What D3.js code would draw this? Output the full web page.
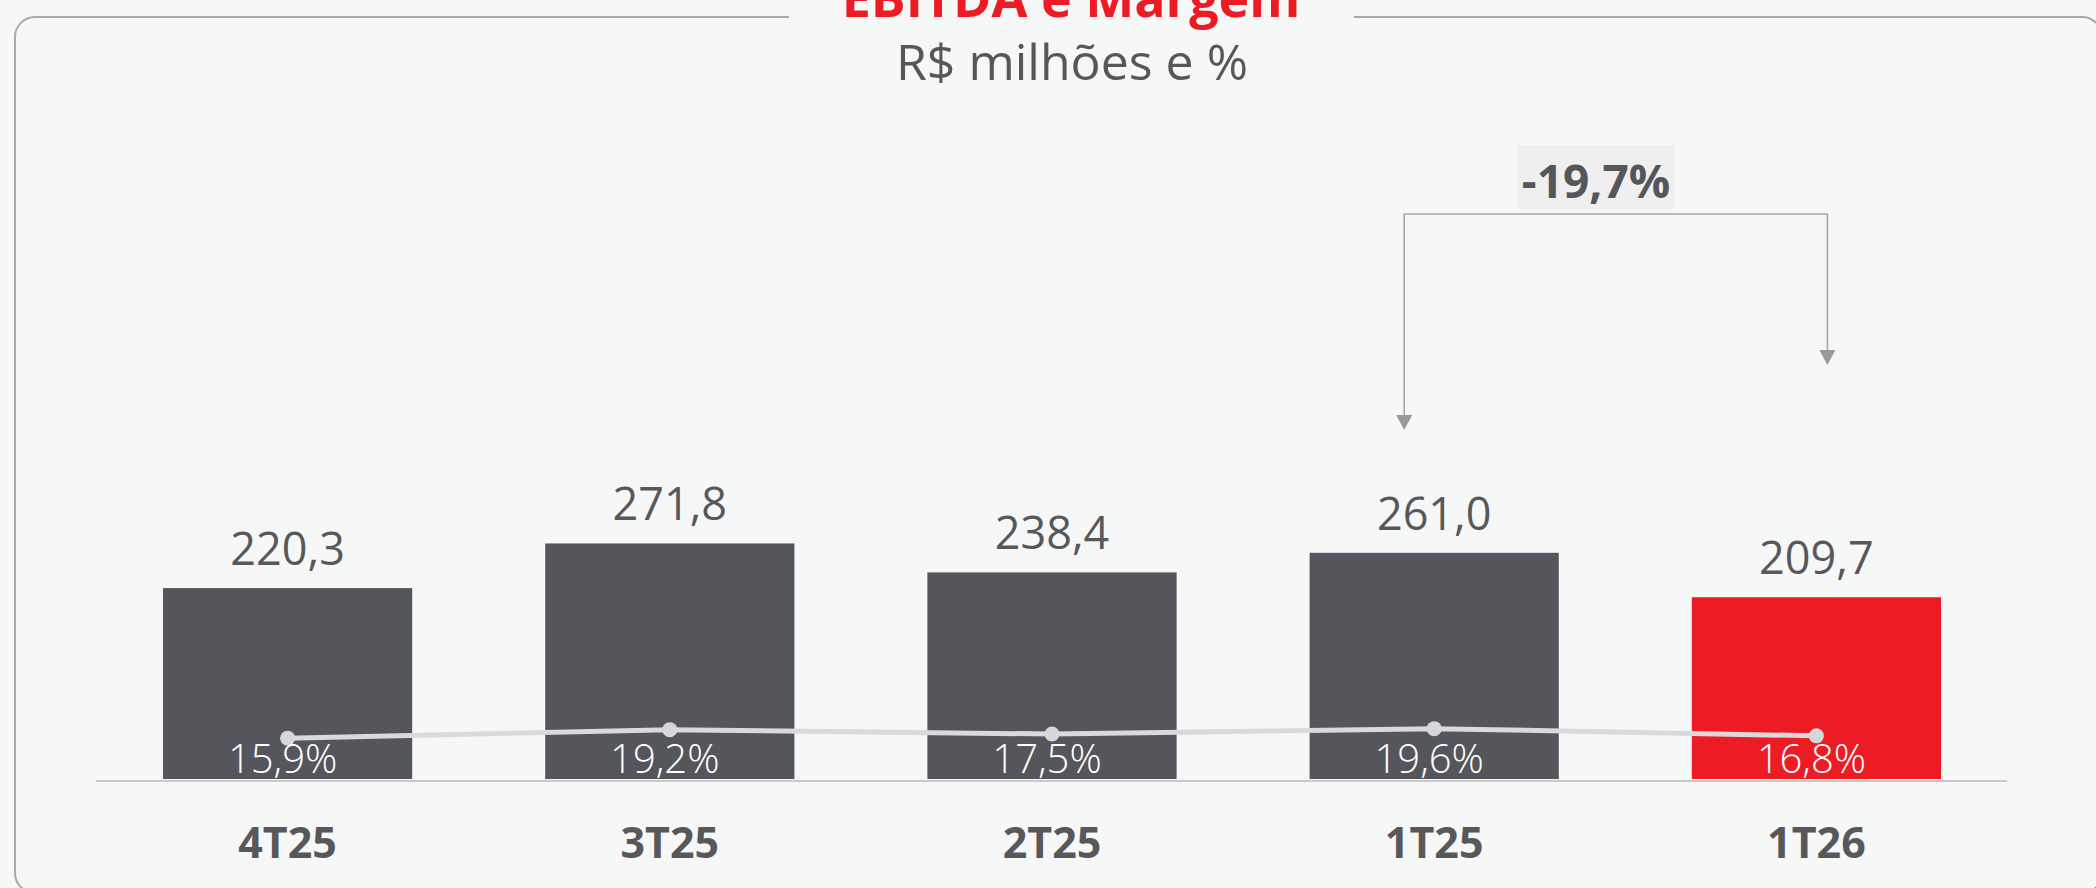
<!DOCTYPE html>
<html lang="pt-BR">
<head>
<meta charset="utf-8">
<title>EBITDA e Margem</title>
<script src="https://cdn.jsdelivr.net/npm/d3@7"></script>
<style>
  html, body { margin: 0; padding: 0; background: #f6f8f7; }
  svg { display: block; }
  text { font-family: "Open Sans", "Noto Sans", sans-serif; }
</style>
</head>
<body>
<svg id="chart" width="2096" height="888"></svg>
<script>
// Quarterly EBITDA (R$ millions) and EBITDA margin (%)
const quarters = ["4T25", "3T25", "2T25", "1T25", "1T26"];
const ebitda = [220.3, 271.8, 238.4, 261.0, 209.7];
const margin = [15.9, 19.2, 17.5, 19.6, 16.8];
const highlight = "1T26";
const variation = "-19,7%";
const comparePair = ["1T25", "1T26"];

const W = 2096, H = 888;
const svg = d3.select("#chart");

const fmt = v => d3.format(".1f")(v).replace(".", ",");

// Scales
const x = d3.scaleBand().domain(quarters).range([163, 1941]).paddingInner(0.348).paddingOuter(0);
const baseY = 779;
const y = d3.scaleLinear().domain([0, 300]).range([baseY, baseY - 260]);
const yM = d3.scaleLinear().domain([0, 100]).range([baseY, baseY - 257]);
const cx = d => x(d) + x.bandwidth() / 2;

// Rounded frame, open at the top for the title
const frameTop = 17, frameLeft = 15, frameRight = 2102, frameBottom = 893, r = 20;
const gapL = 789, gapR = 1354;
const frame = d3.path();
frame.moveTo(gapL, frameTop);
frame.lineTo(frameLeft + r, frameTop);
frame.arcTo(frameLeft, frameTop, frameLeft, frameTop + r, r);
frame.lineTo(frameLeft, frameBottom - r);
frame.arcTo(frameLeft, frameBottom, frameLeft + r, frameBottom, r);
frame.lineTo(frameRight - r, frameBottom);
frame.arcTo(frameRight, frameBottom, frameRight, frameBottom - r, r);
frame.lineTo(frameRight, frameTop + r);
frame.arcTo(frameRight, frameTop, frameRight - r, frameTop, r);
frame.lineTo(gapR, frameTop);
svg.append("path").attr("d", frame.toString())
  .attr("fill", "none").attr("stroke", "#a9a9a9").attr("stroke-width", 2);

// Titles
svg.append("text").attr("x", 1071).attr("y", 17)
  .attr("text-anchor", "middle").attr("font-size", 52).attr("font-weight", 700)
  .attr("fill", "#ed1c24").text("EBITDA e Margem");
svg.append("text").attr("x", 1072).attr("y", 80)
  .attr("text-anchor", "middle").attr("font-size", 50).attr("font-weight", 400)
  .attr("fill", "#57575a").text("R$ milhões e %");

// Baseline axis
svg.append("line").attr("x1", 96).attr("x2", 2007).attr("y1", baseY + 2).attr("y2", baseY + 2)
  .attr("stroke", "#c9c9c9").attr("stroke-width", 2);

// Bars
svg.append("g").selectAll("rect").data(quarters).join("rect")
  .attr("x", d => x(d))
  .attr("width", x.bandwidth())
  .attr("y", (d, i) => y(ebitda[i]))
  .attr("height", (d, i) => y(0) - y(ebitda[i]))
  .attr("fill", d => d === highlight ? "#ed1c24" : "#55565b");

// Value labels above bars
svg.append("g").selectAll("text").data(quarters).join("text")
  .attr("x", d => cx(d))
  .attr("y", (d, i) => y(ebitda[i]) - 23)
  .attr("text-anchor", "middle").attr("font-size", 45).attr("font-weight", 400)
  .attr("fill", "#58585b")
  .text((d, i) => fmt(ebitda[i]));

// Category axis labels
const xAxis = d3.axisBottom(x).tickSize(0).tickPadding(0);
const gx = svg.append("g").attr("transform", `translate(0, 858)`).call(xAxis);
gx.select(".domain").remove();
gx.selectAll("text")
  .attr("dy", 0).attr("y", 0)
  .attr("font-size", 43).attr("font-weight", 700)
  .attr("fill", "#58585a")
  .style("font-family", "'Open Sans', 'Noto Sans', sans-serif");

// Margin line
const line = d3.line().x(d => cx(d)).y((d, i) => yM(margin[i]));
svg.append("path").datum(quarters).attr("d", line)
  .attr("fill", "none").attr("stroke", "#d9dadc").attr("stroke-width", 5);
svg.append("g").selectAll("circle").data(quarters).join("circle")
  .attr("cx", d => cx(d)).attr("cy", (d, i) => yM(margin[i]))
  .attr("r", 7.5).attr("fill", "#d6d7d9");

// Margin labels
svg.append("g").selectAll("text").data(quarters).join("text")
  .attr("x", d => cx(d) - 5)
  .attr("y", 773)
  .attr("text-anchor", "middle").attr("font-size", 40).attr("font-weight", 300)
  .attr("fill", "#ffffff")
  .text((d, i) => fmt(margin[i]) + "%");

// Variation bracket between the compared quarters
const bx1 = cx(comparePair[0]) - 30, bx2 = cx(comparePair[1]) + 11;
const bracketY = 214;
svg.append("path")
  .attr("d", `M${bx1},420 V${bracketY} H${bx2} V356`)
  .attr("fill", "none").attr("stroke", "#a6a6a6").attr("stroke-width", 1.6);
const arrowHead = (xc, tip) => `M${xc - 8},${tip - 15} L${xc + 8},${tip - 15} L${xc},${tip} Z`;
svg.append("path").attr("d", arrowHead(bx1, 430)).attr("fill", "#999999");
svg.append("path").attr("d", arrowHead(bx2, 365)).attr("fill", "#999999");

// Variation label
svg.append("rect").attr("x", 1518).attr("y", 145).attr("width", 157).attr("height", 64)
  .attr("fill", "#efefef");
svg.append("text").attr("x", 1596).attr("y", 198)
  .attr("text-anchor", "middle").attr("font-size", 46).attr("font-weight", 700)
  .attr("fill", "#55565b").text(variation);
</script>
</body>
</html>
